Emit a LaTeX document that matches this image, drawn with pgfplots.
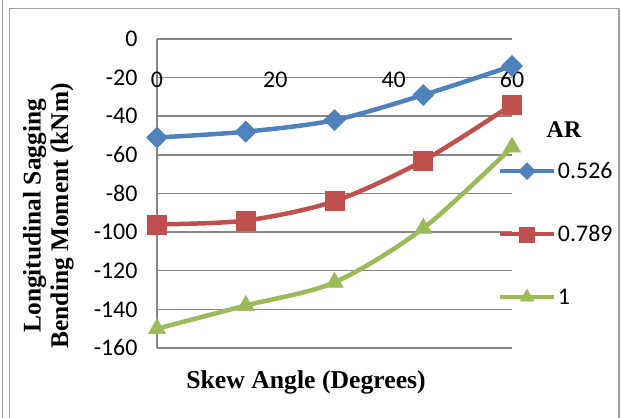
\documentclass[border=0pt]{standalone}
\usepackage{fontspec}
\setmainfont{Carlito}
\newfontfamily\titlefont{Liberation Serif}
\usepackage{pgfplots}
\pgfplotsset{compat=1.18}

\definecolor{arblue}{HTML}{4F81BD}
\definecolor{arred}{HTML}{C0504D}
\definecolor{argreen}{HTML}{9BBB59}
\definecolor{gridgray}{HTML}{868686}
\definecolor{framegray}{HTML}{A0A0A0}

\begin{document}
\begin{tikzpicture}
% page frame
\path[use as bounding box] (0bp,0bp) rectangle (621bp,418bp);
\draw[framegray, line width=1.2bp] (2.5bp,0bp) -- (2.5bp,418bp);
\draw[framegray, line width=1.2bp] (9.5bp,0bp) -- (9.5bp,409.7bp) -- (619bp,409.7bp) -- (619bp,0bp);

\begin{axis}[
  at={(157bp,70bp)}, anchor=south west,
  scale only axis, width=355bp, height=309bp,
  xmin=0, xmax=60, ymin=-160, ymax=0,
  axis x line=top, axis y line=left,
  axis line style={draw=gridgray, line width=1.5bp, -},
  xtick={0,20,40,60}, ytick={-160,-140,...,0},
  major tick length=0pt,
  ymajorgrids, grid style={gridgray, line width=1.5bp},
  tick label style={font=\fontsize{24}{28}\selectfont},
  /pgf/number format/assume math mode=true,
  xticklabel style={anchor=center, yshift=-41bp},
  yticklabel style={anchor=east, xshift=-16bp},
  clip=false,
  xlabel={Skew Angle (Degrees)},
  xlabel style={font=\titlefont\bfseries\fontsize{25.8}{27}\selectfont,
    at={(axis description cs:0.42,-0.110)}, anchor=center},
  ylabel={Longitudinal Sagging\\Bending Moment (kNm)},
  ylabel style={font=\titlefont\bfseries\fontsize{25.5}{27.5}\selectfont,
    align=center, at={(axis description cs:-0.306,0.428)}, anchor=center},
  legend image code/.code={\draw[mark repeat=2,mark phase=2,#1,
      line width=4bp, every mark/.append style={scale=0.8}]
    plot coordinates {(0bp,0bp) (27bp,0bp) (54bp,0bp)};},
  legend style={at={(axis description cs:0.96,0.608)}, anchor=north west,
    draw=none, fill=none, inner sep=0pt, row sep=41.5bp, column sep=0bp,
    font=\fontsize{24}{28}\selectfont},
  legend cell align=left,
]
\addplot[arblue, line width=4.5bp, smooth, mark=square*, mark size=7.5bp,
  mark options={rotate=45, line width=0.5bp}]
  coordinates {(0,-51) (15,-48) (30,-42) (45,-29) (60,-14)};
\addlegendentry{0.526}
\addplot[arred, line width=4.5bp, smooth, mark=square*, mark size=9.5bp,
  mark options={line width=0.5bp}]
  coordinates {(0,-96) (15,-94) (30,-84) (45,-63) (60,-34)};
\addlegendentry{0.789}
\addplot[argreen, line width=4.5bp, smooth, mark=triangle*, mark size=10bp,
  mark options={line width=0.5bp}]
  coordinates {(0,-150) (15,-138) (30,-126) (45,-98) (60,-56)};
\addlegendentry{1}
\end{axis}

\node[font=\titlefont\bfseries\fontsize{24}{28}\selectfont] at (564bp,288bp) {AR};
\end{tikzpicture}
\end{document}
